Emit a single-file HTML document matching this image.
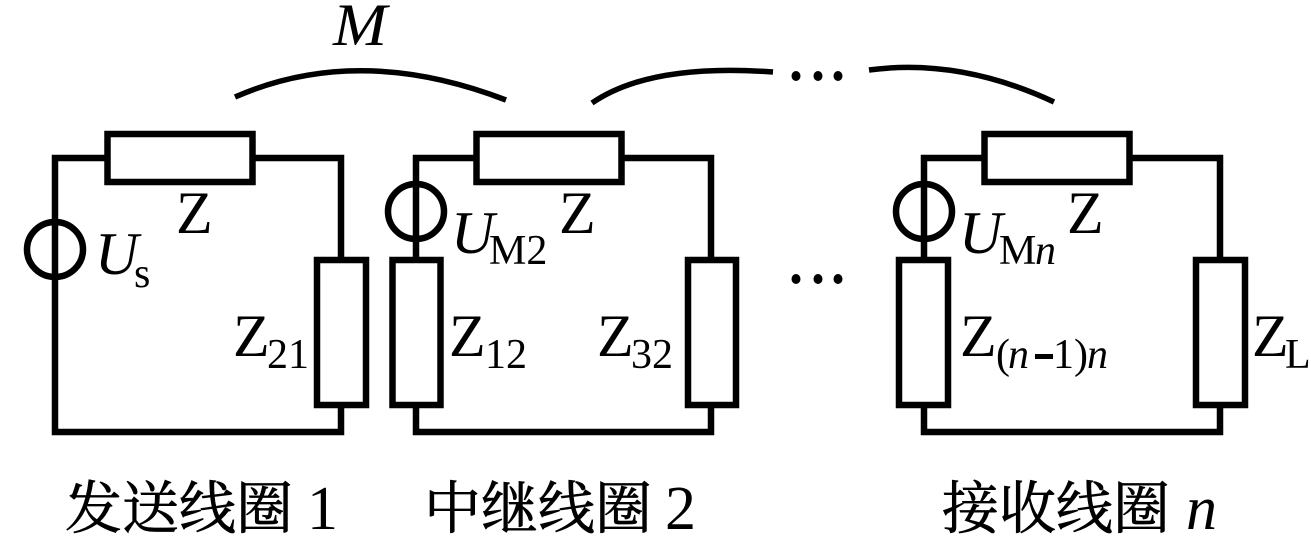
<!DOCTYPE html>
<html><head><meta charset="utf-8"><style>
html,body{margin:0;padding:0;background:#fff}
svg{display:block}
text{font-family:"Liberation Serif","Noto Serif CJK SC",serif;fill:#000}
.z{font-size:60px}
.s{font-size:42px}
.i{font-style:italic}
.c{font-size:57px;stroke:#000;stroke-width:.7}
.d{font-size:62px}
.w{fill:none;stroke:#000;stroke-width:6.5}
.b{fill:#fff;stroke:#000;stroke-width:6.5}
.a{fill:none;stroke:#000;stroke-width:5.5}
</style></head><body>
<svg width="1311" height="547" viewBox="0 0 1311 547" xmlns="http://www.w3.org/2000/svg">
<!-- wires -->
<rect class="w" x="55" y="158" width="286" height="274"/>
<rect class="w" x="416" y="158" width="295" height="274"/>
<rect class="w" x="924" y="158" width="296" height="274"/>
<!-- resistors -->
<rect class="b" x="107.500" y="134" width="145" height="48"/>
<rect class="b" x="476.500" y="134" width="145" height="48"/>
<rect class="b" x="984.500" y="134" width="145" height="48"/>
<rect class="b" x="317" y="260" width="49" height="145"/>
<rect class="b" x="392.500" y="260" width="48" height="145"/>
<rect class="b" x="688" y="260" width="48" height="145"/>
<rect class="b" x="899" y="260" width="49" height="145"/>
<rect class="b" x="1196" y="260" width="49" height="145"/>
<!-- sources -->
<ellipse class="w" cx="55" cy="249.500" rx="28" ry="27.500"/>
<ellipse class="w" cx="416" cy="211.500" rx="28" ry="27.500"/>
<ellipse class="w" cx="924" cy="211.500" rx="28" ry="27.500"/>
<!-- arcs -->
<path class="a" d="M235 97Q358 43 506 100"/>
<path class="a" d="M592 103Q650 63 773 72"/>
<path class="a" d="M869 70Q960 58 1054 102"/>
<!-- dots -->
<g fill="#000">
<ellipse cx="796" cy="76" rx="4.500" ry="5"/><ellipse cx="818" cy="76" rx="4.500" ry="5"/><ellipse cx="838" cy="76" rx="4.500" ry="5"/>
<ellipse cx="796" cy="279" rx="4.500" ry="5"/><ellipse cx="818" cy="279" rx="4.500" ry="5"/><ellipse cx="838" cy="279" rx="4.500" ry="5"/>
</g>
<!-- labels -->
<text class="z i" x="333" y="45" textLength="54" lengthAdjust="spacingAndGlyphs">M</text>
<text class="z" x="176" y="233">Z</text>
<text class="z" x="559" y="233">Z</text>
<text class="z" x="1067" y="233">Z</text>
<text class="z i" x="95" y="274">U</text><text class="s" x="134" y="287">s</text>
<text class="z i" x="451" y="253">U</text><text class="s" x="489" y="264">M2</text>
<text class="z i" x="959" y="253">U</text><text class="s" x="999" y="264">M</text><text class="s i" x="1035" y="264">n</text>
<text class="z" x="233" y="356">Z</text><text class="s" x="267" y="368">21</text>
<text class="z" x="449" y="356">Z</text><text class="s" x="485" y="368">12</text>
<text class="z" x="597" y="356">Z</text><text class="s" x="631" y="368">32</text>
<text class="z" x="960" y="356">Z</text><text class="s" x="996" y="368">(</text><text class="s i" x="1008" y="368">n</text><rect x="1035" y="354" width="18" height="5" fill="#000"/><text class="s" x="1053" y="368">1)</text><text class="s i" x="1087" y="368">n</text>
<text class="z" x="1252" y="356">Z</text><text class="s" x="1285" y="368">L</text>
<!-- captions -->
<text class="c" x="65" y="528">发送线圈</text><text class="d" x="307" y="529">1</text>
<text class="c" x="424" y="528">中继线圈</text><text class="d" x="665" y="529">2</text>
<text class="c" x="942" y="528">接收线圈</text><text class="d i" x="1186" y="529">n</text>
</svg>
</body></html>
